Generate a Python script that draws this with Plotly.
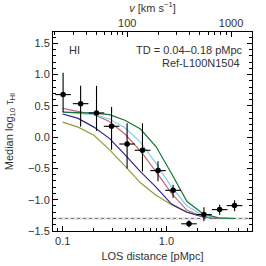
import plotly.graph_objects as go

# ---- data ----
obs_d = [0.101, 0.149, 0.212, 0.296, 0.418, 0.588, 0.83, 1.16, 1.65, 2.30, 3.26, 4.54]
obs_med = [0.68, 0.535, 0.387, 0.173, -0.11, -0.21, -0.535, -0.85, -1.385, -1.238, -1.158, -1.094]
obs_hi = [1.03, 0.82, 0.82, 0.48, 0.22, 0.22, -0.387, -0.76, -1.33, -1.12, -1.08, -1.01]
obs_lo = [0.40, 0.17, 0.10, -0.20, -0.50, -0.55, -0.706, -0.97, -1.44, -1.345, -1.24, -1.185]
bin_halfwidth_dex = 0.075

model_d = [0.1, 0.141, 0.2, 0.282, 0.398, 0.562, 0.794, 1.12, 1.58, 2.24, 3.16, 4.6]
model_green = [0.40, 0.39, 0.385, 0.36, 0.27, 0.13, -0.15, -0.58, -1.03, -1.22, -1.29, -1.30]
model_cyan = [0.40, 0.385, 0.36, 0.29, 0.15, -0.08, -0.42, -0.80, -1.10, -1.25, -1.29, -1.30]
model_rose = [0.46, 0.41, 0.36, 0.25, 0.05, -0.22, -0.55, -0.90, -1.17, -1.27, -1.30, -1.30]
model_indigo = [0.37, 0.30, 0.16, -0.02, -0.28, -0.55, -0.80, -1.07, -1.20, -1.27, -1.30, -1.30]
model_olive = [0.24, 0.16, 0.03, -0.20, -0.46, -0.73, -0.93, -1.08, -1.20, -1.27, -1.30, -1.30]

noise_level = -1.30
noise_err = 0.02

x_ticks = [0.1, 1.0]
x_ticktext = ["0.1", "1.0"]
x_minor = [0.09, 0.2, 0.3, 0.4, 0.5, 0.6, 0.7, 0.8, 0.9, 2, 3, 4, 5, 6]
v_ticks = [100, 1000]
v_ticktext = ["100", "1000"]
v_minor = [20, 30, 40, 50, 60, 70, 80, 90, 200, 300, 400, 500, 600, 700, 800, 900]
y_ticks = [-1.5, -1.0, -0.5, 0.0, 0.5, 1.0, 1.5]
y_ticktext = ["\u22121.5", "\u22121.0", "\u22120.5", "0.0", "0.5", "1.0", "1.5"]

# ---- figure ----
FONT = "Liberation Sans"
TXT = "#333333"
fig = go.Figure()

series = [
    (model_olive, "#999933"),
    (model_indigo, "#332288"),
    (model_rose, "#CC6677"),
    (model_cyan, "#88CCEE"),
    (model_green, "#117733"),
]
for vals, col in series:
    fig.add_trace(go.Scatter(x=model_d, y=vals, mode="lines",
                             line=dict(color=col, width=1.2), showlegend=False))

fac = 10 ** bin_halfwidth_dex
err_x_plus = [d * fac - d for d in obs_d]
err_x_minus = [d - d / fac for d in obs_d]
err_y_plus = [h - m for h, m in zip(obs_hi, obs_med)]
err_y_minus = [m - l for m, l in zip(obs_med, obs_lo)]

fig.add_trace(go.Scatter(
    x=obs_d, y=obs_med, mode="markers",
    marker=dict(color="black", size=5.5),
    error_x=dict(type="data", symmetric=False, array=err_x_plus, arrayminus=err_x_minus,
                 color="black", thickness=1.1, width=0),
    error_y=dict(type="data", symmetric=False, array=err_y_plus, arrayminus=err_y_minus,
                 color="black", thickness=1.1, width=0),
    showlegend=False, cliponaxis=True))

# noise band and dotted line
fig.add_shape(type="rect", xref="paper", x0=0, x1=1, yref="y",
              y0=noise_level - noise_err, y1=noise_level + noise_err,
              fillcolor="#e2e2e2", line=dict(width=0), layer="below")
fig.add_shape(type="line", xref="paper", x0=0, x1=1, yref="y",
              y0=noise_level, y1=noise_level,
              line=dict(color="#777777", width=1, dash="dot"), layer="below")

L, R, T, B = 53, 14, 32, 35
W = H = 266
pw = W - L - R
ph = H - T - B

def px(xp):
    return (xp - L) / pw

def py(yp):
    return (H - B - yp) / ph

tickfont = dict(family=FONT, size=11, color=TXT)
titlefont = dict(family=FONT, size=11, color=TXT)
fig.update_layout(
    width=W, height=H,
    margin=dict(l=L, r=R, t=T, b=B, pad=0, autoexpand=False),
    paper_bgcolor="white", plot_bgcolor="white",
    font=dict(family=FONT, size=11, color=TXT),
    xaxis=dict(type="log", range=[-1.093, 0.825], automargin=False,
               tickvals=x_ticks, ticktext=x_ticktext, tickfont=tickfont,
               ticks="inside", ticklen=5, tickwidth=1, tickcolor="black",
               minor=dict(tickvals=x_minor, ticks="inside", ticklen=3, tickwidth=1, tickcolor="black"),
               showline=True, linecolor="black", linewidth=1, mirror=False,
               showgrid=False, zeroline=False,
               title=dict(text="LOS distance [pMpc]", font=titlefont, standoff=6)),
    xaxis2=dict(type="log", range=[1.284, 3.202], overlaying="x", side="top",
                anchor="y", automargin=False,
                tickvals=v_ticks, ticktext=v_ticktext, tickfont=tickfont,
                ticks="inside", ticklen=5, tickwidth=1, tickcolor="black",
                minor=dict(tickvals=v_minor, ticks="inside", ticklen=3, tickwidth=1, tickcolor="black"),
                showline=True, linecolor="black", linewidth=1,
                showgrid=False, zeroline=False,
                title=dict(text="<i>v</i> [km s<sup>\u22121</sup>]", font=titlefont, standoff=4)),
    yaxis=dict(range=[-1.5, 1.68], automargin=False,
               tickvals=y_ticks, ticktext=y_ticktext, tickfont=tickfont,
               ticks="inside", ticklen=5, tickwidth=1, tickcolor="black",
               minor=dict(dtick=0.1, ticks="inside", ticklen=3, tickwidth=1, tickcolor="black"),
               showline=True, linecolor="black", linewidth=1, mirror="ticks",
               showgrid=False, zeroline=False,
               title=dict(text="Median log<sub>10</sub> \u03c4<sub>HI</sub>", font=titlefont, standoff=12)),
)

# dummy trace so the top axis is drawn
fig.add_trace(go.Scatter(x=[100], y=[None], xaxis="x2", yaxis="y", mode="lines",
                         showlegend=False, hoverinfo="skip"))

fig.add_annotation(text="HI", xref="paper", yref="paper", x=px(67), y=py(50),
                   xanchor="left", yanchor="middle", showarrow=False,
                   font=dict(family=FONT, size=11, color=TXT))
fig.add_annotation(text="TD = 0.04\u20130.18 pMpc", xref="paper", yref="paper", x=px(245), y=py(50),
                   xanchor="right", yanchor="middle", showarrow=False,
                   font=dict(family=FONT, size=11, color=TXT))
fig.add_annotation(text="Ref-L100N1504", xref="paper", yref="paper", x=px(242), y=py(63),
                   xanchor="right", yanchor="middle", showarrow=False,
                   font=dict(family=FONT, size=11, color=TXT))

fig.write_html("out.html", config={"displayModeBar": False},
               post_script="document.body.style.margin='0';document.body.style.overflow='hidden';")
